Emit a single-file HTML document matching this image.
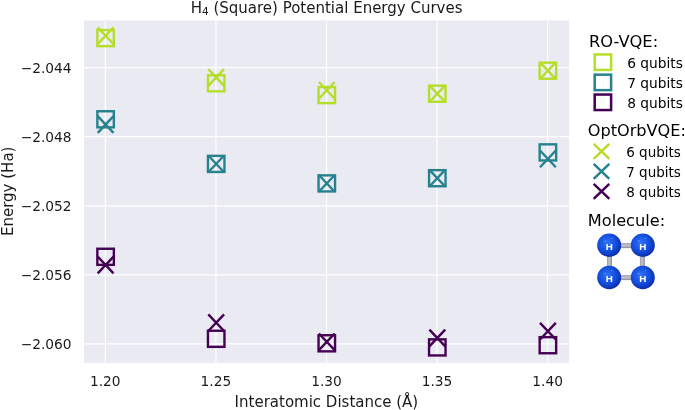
<!DOCTYPE html><html><head><meta charset="utf-8"><title>H4 (Square) Potential Energy Curves</title>
<style>html,body{margin:0;padding:0;background:#fff}svg{display:block;will-change:transform;transform:translateZ(0)}text{font-family:"DejaVu Sans","Liberation Sans",sans-serif;fill:#1a1a1a}</style></head><body>
<svg width="685" height="410" viewBox="0 0 685 410">
<defs><radialGradient id="ball" cx="0.42" cy="0.4" r="0.62"><stop offset="0" stop-color="#2f74f5"/><stop offset="0.55" stop-color="#1550e0"/><stop offset="1" stop-color="#0a2ca8"/></radialGradient>
<linearGradient id="bh" x1="0" y1="0" x2="0" y2="1"><stop offset="0" stop-color="#9a9ca4"/><stop offset="0.45" stop-color="#c3c7d0"/><stop offset="1" stop-color="#8c8e96"/></linearGradient>
<linearGradient id="bv" x1="0" y1="0" x2="1" y2="0"><stop offset="0" stop-color="#9a9ca4"/><stop offset="0.45" stop-color="#c3c7d0"/><stop offset="1" stop-color="#8c8e96"/></linearGradient></defs>
<rect width="685" height="410" fill="#fff"/>
<rect x="84.0" y="20.5" width="485.1" height="342.4" fill="#eaeaf2"/>
<line x1="105.3" y1="20.5" x2="105.3" y2="362.9" stroke="#fff" stroke-width="1.2"/>
<line x1="215.9" y1="20.5" x2="215.9" y2="362.9" stroke="#fff" stroke-width="1.2"/>
<line x1="326.5" y1="20.5" x2="326.5" y2="362.9" stroke="#fff" stroke-width="1.2"/>
<line x1="437.0" y1="20.5" x2="437.0" y2="362.9" stroke="#fff" stroke-width="1.2"/>
<line x1="547.6" y1="20.5" x2="547.6" y2="362.9" stroke="#fff" stroke-width="1.2"/>
<line x1="84.0" y1="67.6" x2="569.1" y2="67.6" stroke="#fff" stroke-width="1.2"/>
<line x1="84.0" y1="136.7" x2="569.1" y2="136.7" stroke="#fff" stroke-width="1.2"/>
<line x1="84.0" y1="205.8" x2="569.1" y2="205.8" stroke="#fff" stroke-width="1.2"/>
<line x1="84.0" y1="274.8" x2="569.1" y2="274.8" stroke="#fff" stroke-width="1.2"/>
<line x1="84.0" y1="343.9" x2="569.1" y2="343.9" stroke="#fff" stroke-width="1.2"/>
<rect x="97.35" y="30.05" width="16.50" height="16.10" fill="none" stroke="#b5de2b" stroke-width="2.4"/>
<rect x="207.95" y="75.25" width="16.50" height="16.10" fill="none" stroke="#b5de2b" stroke-width="2.4"/>
<rect x="318.55" y="87.05" width="16.50" height="16.10" fill="none" stroke="#b5de2b" stroke-width="2.4"/>
<rect x="429.05" y="85.65" width="16.50" height="16.10" fill="none" stroke="#b5de2b" stroke-width="2.4"/>
<rect x="539.65" y="62.65" width="16.50" height="16.10" fill="none" stroke="#b5de2b" stroke-width="2.4"/>
<rect x="97.35" y="111.25" width="16.50" height="16.10" fill="none" stroke="#26828e" stroke-width="2.4"/>
<rect x="207.95" y="155.85" width="16.50" height="16.10" fill="none" stroke="#26828e" stroke-width="2.4"/>
<rect x="318.55" y="175.35" width="16.50" height="16.10" fill="none" stroke="#26828e" stroke-width="2.4"/>
<rect x="429.05" y="170.15" width="16.50" height="16.10" fill="none" stroke="#26828e" stroke-width="2.4"/>
<rect x="539.65" y="144.35" width="16.50" height="16.10" fill="none" stroke="#26828e" stroke-width="2.4"/>
<rect x="97.35" y="248.75" width="16.50" height="16.10" fill="none" stroke="#440154" stroke-width="2.4"/>
<rect x="207.95" y="330.75" width="16.50" height="16.10" fill="none" stroke="#440154" stroke-width="2.4"/>
<rect x="318.55" y="335.25" width="16.50" height="16.10" fill="none" stroke="#440154" stroke-width="2.4"/>
<rect x="429.05" y="339.35" width="16.50" height="16.10" fill="none" stroke="#440154" stroke-width="2.4"/>
<rect x="539.65" y="337.15" width="16.50" height="16.10" fill="none" stroke="#440154" stroke-width="2.4"/>
<path d="M97.70 27.35L113.50 44.05M97.70 44.05L113.50 27.35" fill="none" stroke="#b5de2b" stroke-width="2.4"/>
<path d="M208.30 69.15L224.10 85.85M208.30 85.85L224.10 69.15" fill="none" stroke="#b5de2b" stroke-width="2.4"/>
<path d="M318.90 82.05L334.70 98.75M318.90 98.75L334.70 82.05" fill="none" stroke="#b5de2b" stroke-width="2.4"/>
<path d="M429.40 85.35L445.20 102.05M429.40 102.05L445.20 85.35" fill="none" stroke="#b5de2b" stroke-width="2.4"/>
<path d="M540.00 62.35L555.80 79.05M540.00 79.05L555.80 62.35" fill="none" stroke="#b5de2b" stroke-width="2.4"/>
<path d="M97.70 116.15L113.50 132.85M97.70 132.85L113.50 116.15" fill="none" stroke="#26828e" stroke-width="2.4"/>
<path d="M208.30 155.55L224.10 172.25M208.30 172.25L224.10 155.55" fill="none" stroke="#26828e" stroke-width="2.4"/>
<path d="M318.90 175.05L334.70 191.75M318.90 191.75L334.70 175.05" fill="none" stroke="#26828e" stroke-width="2.4"/>
<path d="M429.40 169.85L445.20 186.55M429.40 186.55L445.20 169.85" fill="none" stroke="#26828e" stroke-width="2.4"/>
<path d="M540.00 150.55L555.80 167.25M540.00 167.25L555.80 150.55" fill="none" stroke="#26828e" stroke-width="2.4"/>
<path d="M97.70 256.65L113.50 273.35M97.70 273.35L113.50 256.65" fill="none" stroke="#440154" stroke-width="2.4"/>
<path d="M208.30 314.35L224.10 331.05M208.30 331.05L224.10 314.35" fill="none" stroke="#440154" stroke-width="2.4"/>
<path d="M318.90 333.45L334.70 350.15M318.90 350.15L334.70 333.45" fill="none" stroke="#440154" stroke-width="2.4"/>
<path d="M429.40 329.65L445.20 346.35M429.40 346.35L445.20 329.65" fill="none" stroke="#440154" stroke-width="2.4"/>
<path d="M540.00 322.85L555.80 339.55M540.00 339.55L555.80 322.85" fill="none" stroke="#440154" stroke-width="2.4"/>
<text x="105.3" y="386" font-size="13.75" text-anchor="middle">1.20</text>
<text x="215.9" y="386" font-size="13.75" text-anchor="middle">1.25</text>
<text x="326.5" y="386" font-size="13.75" text-anchor="middle">1.30</text>
<text x="437.0" y="386" font-size="13.75" text-anchor="middle">1.35</text>
<text x="547.6" y="386" font-size="13.75" text-anchor="middle">1.40</text>
<text x="71.6" y="72.9" font-size="13.75" text-anchor="end">−2.044</text>
<text x="71.6" y="142.0" font-size="13.75" text-anchor="end">−2.048</text>
<text x="71.6" y="211.1" font-size="13.75" text-anchor="end">−2.052</text>
<text x="71.6" y="280.1" font-size="13.75" text-anchor="end">−2.056</text>
<text x="71.6" y="349.2" font-size="13.75" text-anchor="end">−2.060</text>
<text x="326.4" y="406.6" font-size="15" text-anchor="middle">Interatomic Distance (Å)</text>
<text transform="translate(13.2 191.3) rotate(-90)" font-size="15" text-anchor="middle">Energy (Ha)</text>
<text x="326.6" y="13.0" font-size="15" text-anchor="middle">H<tspan font-size="10.5" dy="2.3">4</tspan><tspan dy="-2.3"> (Square) Potential Energy Curves</tspan></text>
<text x="588.9" y="46.8" font-size="16.3" style="fill:#000">RO-VQE:</text>
<rect x="594.70" y="54.45" width="16.40" height="15.50" fill="none" stroke="#b5de2b" stroke-width="2.5"/>
<rect x="594.70" y="74.65" width="16.40" height="15.50" fill="none" stroke="#26828e" stroke-width="2.5"/>
<rect x="594.70" y="94.55" width="16.40" height="15.50" fill="none" stroke="#440154" stroke-width="2.5"/>
<text x="627.2" y="67.6" font-size="13.75" style="fill:#000">6 qubits</text>
<text x="627.2" y="87.8" font-size="13.75" style="fill:#000">7 qubits</text>
<text x="627.2" y="107.9" font-size="13.75" style="fill:#000">8 qubits</text>
<text x="587.7" y="135.8" font-size="16.15" style="fill:#000">OptOrbVQE:</text>
<path d="M593.70 143.80L609.30 158.80M593.70 158.80L609.30 143.80" fill="none" stroke="#b5de2b" stroke-width="2.5"/>
<path d="M593.70 163.80L609.30 178.80M593.70 178.80L609.30 163.80" fill="none" stroke="#26828e" stroke-width="2.5"/>
<path d="M593.70 183.90L609.30 198.90M593.70 198.90L609.30 183.90" fill="none" stroke="#440154" stroke-width="2.5"/>
<text x="626.2" y="156.7" font-size="13.5" style="fill:#000">6 qubits</text>
<text x="626.2" y="176.8" font-size="13.5" style="fill:#000">7 qubits</text>
<text x="626.2" y="196.9" font-size="13.5" style="fill:#000">8 qubits</text>
<text x="587.8" y="226" font-size="16.2" style="fill:#000">Molecule:</text>
<rect x="609.2" y="243.1" width="33.6" height="5" fill="url(#bh)"/>
<rect x="609.2" y="275.1" width="33.6" height="5" fill="url(#bh)"/>
<rect x="607.0" y="245.3" width="5" height="32.2" fill="url(#bv)"/>
<rect x="639.9" y="245.3" width="5" height="32.2" fill="url(#bv)"/>
<ellipse cx="609.2" cy="245.3" rx="12.0" ry="11.7" fill="url(#ball)"/>
<circle cx="605.3" cy="241.1" r="0.55" fill="#fff" fill-opacity="0.6"/>
<circle cx="612.0" cy="238.4" r="0.5" fill="#fff" fill-opacity="0.55"/>
<text x="609.2" y="249.6" font-size="9.8" font-weight="bold" text-anchor="middle" style="fill:#fff;font-family:'Liberation Sans',sans-serif">H</text>
<ellipse cx="609.2" cy="277.5" rx="12.0" ry="11.7" fill="url(#ball)"/>
<circle cx="605.3" cy="273.3" r="0.55" fill="#fff" fill-opacity="0.6"/>
<circle cx="612.0" cy="270.6" r="0.5" fill="#fff" fill-opacity="0.55"/>
<text x="609.2" y="281.8" font-size="9.8" font-weight="bold" text-anchor="middle" style="fill:#fff;font-family:'Liberation Sans',sans-serif">H</text>
<ellipse cx="642.8" cy="245.3" rx="12.0" ry="11.7" fill="url(#ball)"/>
<circle cx="638.9" cy="241.1" r="0.55" fill="#fff" fill-opacity="0.6"/>
<circle cx="645.6" cy="238.4" r="0.5" fill="#fff" fill-opacity="0.55"/>
<text x="642.8" y="249.6" font-size="9.8" font-weight="bold" text-anchor="middle" style="fill:#fff;font-family:'Liberation Sans',sans-serif">H</text>
<ellipse cx="642.8" cy="277.5" rx="12.0" ry="11.7" fill="url(#ball)"/>
<circle cx="638.9" cy="273.3" r="0.55" fill="#fff" fill-opacity="0.6"/>
<circle cx="645.6" cy="270.6" r="0.5" fill="#fff" fill-opacity="0.55"/>
<text x="642.8" y="281.8" font-size="9.8" font-weight="bold" text-anchor="middle" style="fill:#fff;font-family:'Liberation Sans',sans-serif">H</text>
</svg></body></html>
